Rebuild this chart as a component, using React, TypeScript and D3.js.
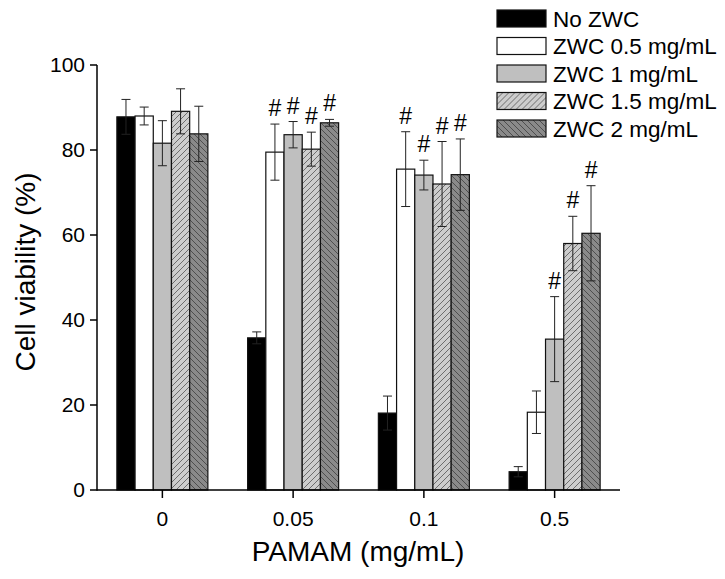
import React from "react";
import * as d3 from "d3";

const categories = ["0", "0.05", "0.1", "0.5"];
const seriesNames = ["No ZWC", "ZWC 0.5 mg/mL", "ZWC 1 mg/mL", "ZWC 1.5 mg/mL", "ZWC 2 mg/mL"];
const noZWC = [87.8, 35.8, 18.1, 4.3];
const zwc05 = [88.0, 79.5, 75.5, 18.3];
const zwc1 = [81.6, 83.6, 74.1, 35.5];
const zwc15 = [89.1, 80.2, 72.0, 58.0];
const zwc2 = [83.8, 86.4, 74.2, 60.4];
const errNoZWC = [4.1, 1.4, 4.0, 1.2];
const err05 = [2.1, 6.6, 8.8, 5.0];
const err1 = [5.3, 3.1, 3.5, 10.0];
const err15 = [5.3, 4.0, 10.0, 6.4];
const err2 = [6.5, 0.8, 8.4, 11.2];
const sigNoZWC = [false, false, false, false];
const sig05 = [false, true, true, false];
const sig1 = [false, true, true, true];
const sig15 = [false, true, true, true];
const sig2 = [false, true, true, true];
const yTicks = [0, 20, 40, 60, 80, 100];

const values = [noZWC, zwc05, zwc1, zwc15, zwc2];
const errors = [errNoZWC, err05, err1, err15, err2];
const sigs = [sigNoZWC, sig05, sig1, sig15, sig2];
const fills = ["#000000", "#ffffff", "#bfbfbf", "url(#hatchLight)", "url(#hatchDark)"];

const FONT = "'Liberation Sans', Arial, Helvetica, sans-serif";

export default function App() {
  const W = 725, H = 579;
  const x0 = 97, x1 = 620, yTop = 65, yBottom = 490;
  const x = d3.scaleBand<string>().domain(categories).range([x0, x1]).paddingInner(0).paddingOuter(0);
  const groupW = 91;
  const xs = d3.scaleBand<string>().domain(seriesNames).range([-groupW / 2, groupW / 2]);
  const y = d3.scaleLinear().domain([0, 100]).range([yBottom, yTop]);
  const center = (c: string) => (x(c) as number) + x.bandwidth() / 2;
  const bw = xs.bandwidth();

  return (
    <svg width={W} height={H} style={{ position: "absolute", left: 0, top: 0, background: "#fff" }}>
      <defs>
        <pattern id="hatchLight" patternUnits="userSpaceOnUse" width="6" height="6">
          <rect width="6" height="6" fill="#cdcdcd" />
          <path d="M-1,1 L1,-1 M0,6 L6,0 M5,7 L7,5" stroke="#444" strokeWidth="0.7" />
        </pattern>
        <pattern id="hatchDark" patternUnits="userSpaceOnUse" width="6" height="6">
          <rect width="6" height="6" fill="#8a8a8a" />
          <path d="M-1,5 L1,7 M0,0 L6,6 M5,-1 L7,1" stroke="#333" strokeWidth="0.7" />
        </pattern>
      </defs>
      <rect width={W} height={H} fill="#fff" />

      {/* bars */}
      {seriesNames.map((s, si) =>
        categories.map((c, ci) => {
          const bx = center(c) + (xs(s) as number);
          const v = values[si][ci];
          return (
            <rect key={s + c} x={bx} y={y(v)} width={bw} height={yBottom - y(v)}
              fill={fills[si]} stroke="#111" strokeWidth={1.2} />
          );
        })
      )}

      {/* error bars */}
      {seriesNames.map((s, si) =>
        categories.map((c, ci) => {
          const cx = center(c) + (xs(s) as number) + bw / 2;
          const v = values[si][ci];
          const e = errors[si][ci];
          const t = y(v + e), b = y(v - e);
          return (
            <g key={"e" + s + c} stroke="#222" strokeWidth={1}>
              <line x1={cx} x2={cx} y1={t} y2={b} />
              <line x1={cx - 4.5} x2={cx + 4.5} y1={t} y2={t} />
              <line x1={cx - 4.5} x2={cx + 4.5} y1={b} y2={b} />
            </g>
          );
        })
      )}

      {/* significance marks */}
      {seriesNames.map((s, si) =>
        categories.map((c, ci) => {
          if (!sigs[si][ci]) return null;
          const cx = center(c) + (xs(s) as number) + bw / 2;
          const top = y(values[si][ci] + errors[si][ci]);
          return (
            <text key={"s" + s + c} x={cx} y={top - 8} textAnchor="middle"
              fontFamily={FONT} fontSize={23} fill="#000">#</text>
          );
        })
      )}

      {/* axes */}
      <line x1={x0} x2={x0} y1={yBottom + 0.75} y2={yTop} stroke="#000" strokeWidth={1.5} />
      <line x1={x0} x2={x1} y1={yBottom} y2={yBottom} stroke="#000" strokeWidth={1.5} />
      {yTicks.map((t) => (
        <g key={"yt" + t}>
          <line x1={x0 - 7} x2={x0} y1={y(t)} y2={y(t)} stroke="#000" strokeWidth={1.5} />
          <text x={x0 - 12} y={y(t)} dy="0.35em" textAnchor="end" fontFamily={FONT} fontSize={21}>{t}</text>
        </g>
      ))}
      {categories.map((c) => (
        <g key={"xt" + c}>
          <line x1={center(c)} x2={center(c)} y1={yBottom} y2={yBottom + 8} stroke="#000" strokeWidth={1.5} />
          <text x={center(c)} y={yBottom + 36} textAnchor="middle" fontFamily={FONT} fontSize={21}>{c}</text>
        </g>
      ))}
      <text x={358} y={561} textAnchor="middle" fontFamily={FONT} fontSize={28}>PAMAM (mg/mL)</text>
      <text transform="translate(35,272) rotate(-90)" textAnchor="middle" fontFamily={FONT} fontSize={28}>Cell viability (%)</text>

      {/* legend */}
      {seriesNames.map((s, si) => (
        <g key={"lg" + s} transform={`translate(497,${10 + si * 27.5})`}>
          <rect x={0} y={0} width={49} height={17} fill={fills[si]} stroke="#111" strokeWidth={1.2} />
          <text x={56} y={16.5} fontFamily={FONT} fontSize={22.5}>{s}</text>
        </g>
      ))}
    </svg>
  );
}
